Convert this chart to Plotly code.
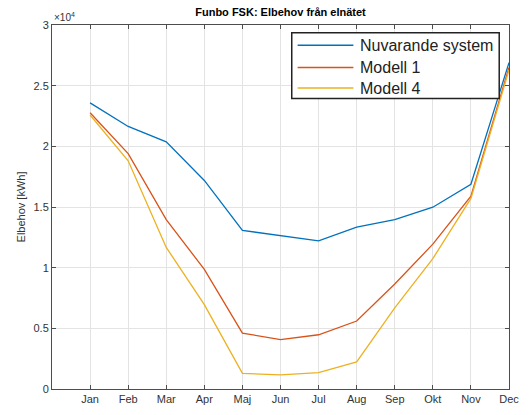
import plotly.graph_objects as go

months = ["Jan", "Feb", "Mar", "Apr", "Maj", "Jun", "Jul", "Aug", "Sep", "Okt", "Nov", "Dec"]
month_pos = [1, 2, 3, 4, 5, 6, 7, 8, 9, 10, 11, 12]
nuvarande = [23580, 21640, 20370, 17190, 13070, 12610, 12210, 13340, 13960, 14980, 16870, 26900]
modell1 = [22770, 19400, 13960, 9860, 4610, 4070, 4470, 5600, 8650, 11940, 15900, 26500]
modell4 = [22580, 18810, 11670, 6950, 1290, 1160, 1350, 2240, 6690, 10750, 15710, 26300]
y_ticks = [0, 0.5, 1, 1.5, 2, 2.5, 3]
y_tick_labels = ["0", "0.5", "1", "1.5", "2", "2.5", "3"]

scale = 1e4
series = [
    ("Nuvarande system", nuvarande, "#0072BD"),
    ("Modell 1", modell1, "#D95319"),
    ("Modell 4", modell4, "#EDB120"),
]

fig = go.Figure()
for name, vals, col in series:
    fig.add_trace(go.Scatter(
        x=month_pos, y=[v / scale for v in vals], mode="lines", name=name,
        line=dict(color=col, width=1.3), showlegend=False,
    ))

font = "Liberation Sans, Arial, Helvetica, sans-serif"
axis_common = dict(
    showline=True, linecolor="#4d4d4d", linewidth=1, mirror="ticks",
    ticks="inside", ticklen=4, tickcolor="#4d4d4d",
    showgrid=True, gridcolor="#e3e3e3", gridwidth=1, zeroline=False,
    tickfont=dict(family=font, size=11, color="#333333"),
)

# manual MATLAB-style legend (paper coordinates)
shapes = [dict(type="rect", xref="paper", yref="paper", x0=0.5246, x1=0.9786, y0=0.7978, y1=0.9784,
               line=dict(color="#222222", width=1.5), fillcolor="white", layer="above")]
annotations = [dict(text="×10<sup>4</sup>", xref="paper", yref="paper", x=0.0, y=1.0,
                    xanchor="left", yanchor="bottom", showarrow=False,
                    font=dict(family=font, size=10, color="#333333"))]
row_y = [0.9442, 0.8833, 0.8267]
for (name, vals, col), ry in zip(series, row_y):
    shapes.append(dict(type="line", xref="paper", yref="paper", x0=0.5375, x1=0.6595, y0=ry, y1=ry,
                       line=dict(color=col, width=1.5), layer="above"))
    annotations.append(dict(text=name, xref="paper", yref="paper", x=0.6702, y=ry,
                            xanchor="left", yanchor="middle", showarrow=False,
                            font=dict(family=font, size=16, color="#222222")))

fig.update_layout(
    width=529, height=415,
    margin=dict(l=52, r=10, t=25, b=19),
    paper_bgcolor="white", plot_bgcolor="white",
    title=dict(text="<b>Funbo FSK: Elbehov från elnätet</b>", xref="paper", x=0.5, xanchor="center",
               y=1 - 12 / 415, yanchor="middle", font=dict(family=font, size=11, color="black")),
    xaxis=dict(range=[0, 12], tickmode="array", tickvals=month_pos, ticktext=months, **axis_common),
    yaxis=dict(range=[0, 3], tickmode="array", tickvals=y_ticks, ticktext=y_tick_labels,
               title=dict(text="Elbehov [kWh]", standoff=5, font=dict(family=font, size=11, color="#333333")),
               **axis_common),
    showlegend=False,
    shapes=shapes,
    annotations=annotations,
)

fig.write_html("out.html")
